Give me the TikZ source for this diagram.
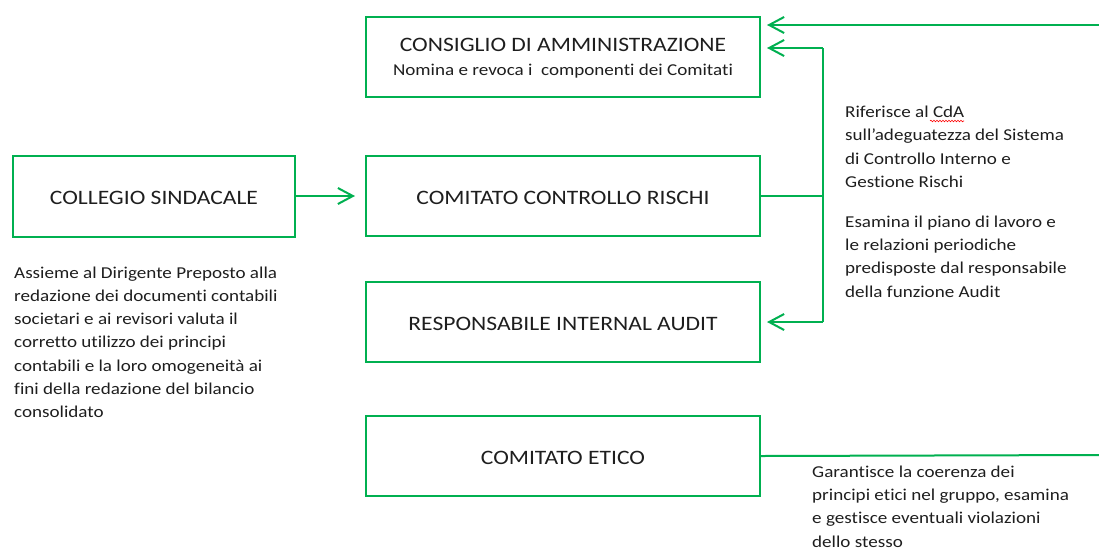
\documentclass[tikz,border=0pt]{standalone}
\usepackage{fontspec}
\setmainfont{Carlito}[FakeStretch=1.15,Ligatures=NoCommon]
\usetikzlibrary{arrows.meta,decorations.pathmorphing}
\definecolor{grn}{RGB}{0,176,80}
\definecolor{txt}{RGB}{30,30,30}
\tikzset{
  box/.style={draw=grn, line width=2pt, minimum width=394pt, minimum height=80pt,
    align=center, text=txt, font=\fontsize{20.5}{25}\selectfont,
    text height=17.5pt, text depth=0pt},
  note/.style={anchor=base west, align=left, inner sep=0pt, text=txt,
    font=\fontsize{16.6}{23.3}\selectfont},
  link/.style={draw=grn, line width=2pt},
  arr/.style={link, -{Straight Barb[length=15pt,width=16pt,line width=2pt]}}
}
\begin{document}
\begin{tikzpicture}[x=1pt,y=-1pt]
  \useasboundingbox (0,0) rectangle (1099,550);
  \node[box, text height=, text depth=-2pt] (cda) at (563,57) {CONSIGLIO DI AMMINISTRAZIONE\\[-1pt]
    {\fontsize{16.6}{20}\selectfont Nomina e revoca i\ \ componenti dei Comitati}};
  \node[box] (ccr) at (563,196) {COMITATO CONTROLLO RISCHI};
  \node[box] (ria) at (563,322) {RESPONSABILE INTERNAL AUDIT};
  \node[box] (ce) at (563,456) {COMITATO ETICO};
  \node[box, minimum width=282pt, minimum height=81pt] (cs) at (154,196) {COLLEGIO SINDACALE};
  \coordinate (topin) at (1099,25);
  \coordinate (ceout) at (1099,455);
  \coordinate (bus) at (823,48);
  \coordinate (busend) at (823,322);
  \node[note] (n1) at (845,187.4) {Riferisce al CdA\\sull’adeguatezza del Sistema\\di Controllo Interno e\\Gestione Rischi};
  \node[note] (n2) at (845,297) {Esamina il piano di lavoro e\\le relazioni periodiche\\predisposte dal responsabile\\della funzione Audit};
  \node[note] (n3) at (14,417.8) {Assieme al Dirigente Preposto alla\\redazione dei documenti contabili\\societari e ai revisori valuta il\\corretto utilizzo dei principi\\contabili e la loro omogeneità ai\\fini della redazione del bilancio\\consolidato};
  \node[note] (n4) at (812,547) {Garantisce la coerenza dei\\principi etici nel gruppo, esamina\\e gestisce eventuali violazioni\\dello stesso};
  \begin{scope}[arr]
    \draw (topin) -- ([xshift=6pt]cda.east |- topin);
    \draw (bus) -- ([xshift=6pt]cda.east |- bus);
    \draw (busend) -- ([xshift=6pt]ria.east |- busend);
    \draw (cs.east) -- ([xshift=-10pt]ccr.west);
  \end{scope}
  \begin{scope}[link]
    \draw (bus) -- (busend);
    \draw (ccr.east) -- (ccr.east -| bus);
    \draw (ce.east) -- (ceout);
  \end{scope}
  \draw[red, line width=0.6pt, decorate, decoration={snake, amplitude=0.8pt, segment length=3pt}]
    (930,121) -- (964,121);
\end{tikzpicture}
\end{document}
